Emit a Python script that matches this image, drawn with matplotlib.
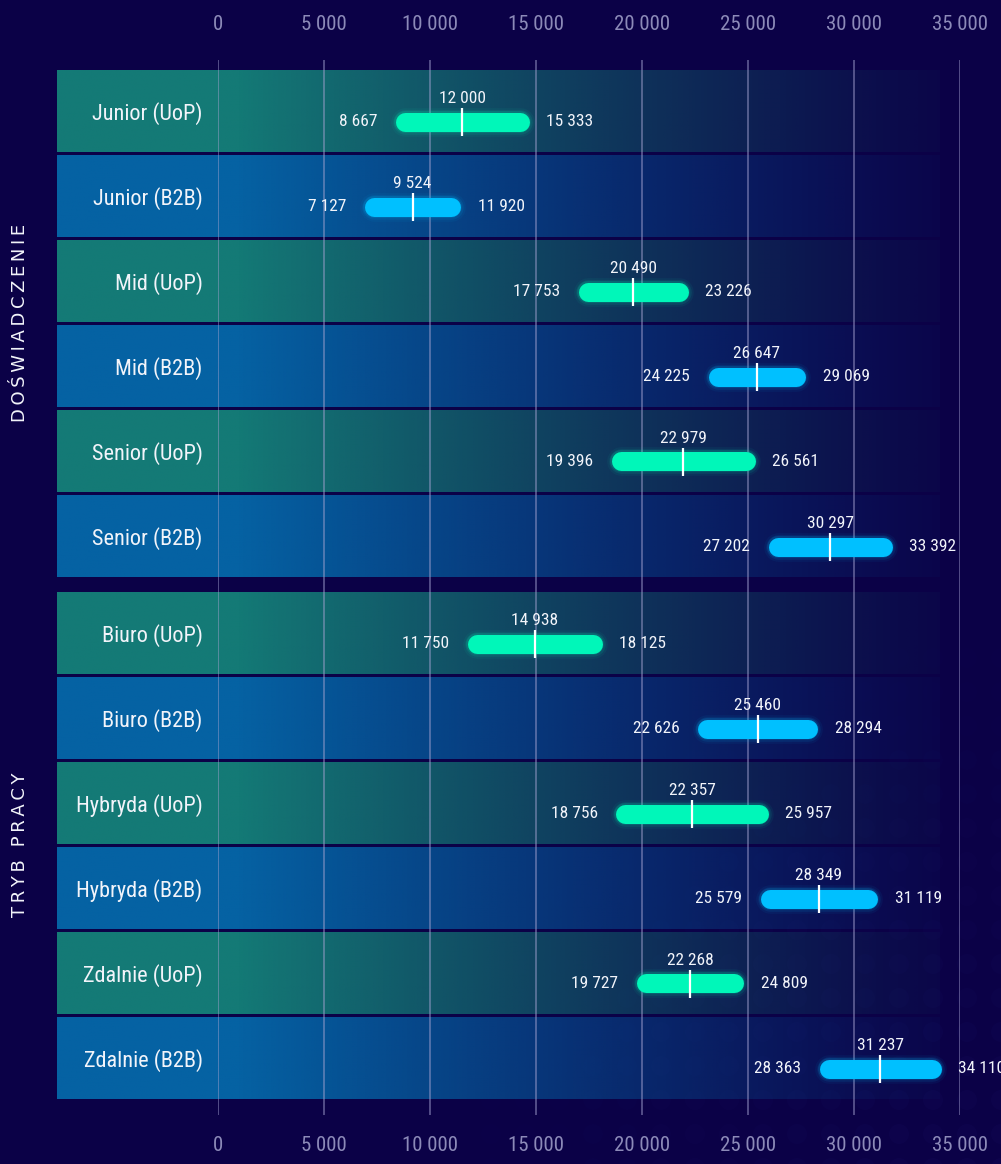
# -*- coding: utf-8 -*-
"""
Widełki wynagrodzeń (min / mediana / max) wg doświadczenia i trybu pracy.
"""
import numpy as np
import matplotlib
matplotlib.use("Agg")
import matplotlib.pyplot as plt
from matplotlib import font_manager
from matplotlib.colors import to_rgb
from matplotlib.ticker import FuncFormatter, MultipleLocator
from matplotlib.transforms import blended_transform_factory

# --------------------------- dane -------------------------------
EXP_LABELS = ["Junior (UoP)", "Junior (B2B)", "Mid (UoP)", "Mid (B2B)",
              "Senior (UoP)", "Senior (B2B)"]
EXP_MIN = [8667, 7127, 17753, 24225, 19396, 27202]
EXP_MED = [12000, 9524, 20490, 26647, 22979, 30297]
EXP_MAX = [15333, 11920, 23226, 29069, 26561, 33392]

MODE_LABELS = ["Biuro (UoP)", "Biuro (B2B)", "Hybryda (UoP)", "Hybryda (B2B)",
               "Zdalnie (UoP)", "Zdalnie (B2B)"]
MODE_MIN = [11750, 22626, 18756, 25579, 19727, 28363]
MODE_MED = [14938, 25460, 22357, 28349, 22268, 31237]
MODE_MAX = [18125, 28294, 25957, 31119, 24809, 34110]

SECTION_TITLES = ["DOŚWIADCZENIE", "TRYB PRACY"]

# --------------------------- wygląd -------------------------------
W, H, DPI = 1001, 1164, 100
BG = "#0b0147"
BAND_UOP = "#147a76"
BAND_B2B = "#0562a3"
BAR_UOP = "#00f7b9"
BAR_B2B = "#00c0ff"
TICK_COLOR = "#8c8ab8"
GRID_COLOR = "#a4a2d0"
TEXT = "#f2f4fa"

PLOT_X0, PLOT_X1 = 218, 960          # piksele osi x
BAND_X0, BAND_X1 = 57, 940           # zakres pasów tła
PITCH = 85                           # odstęp wierszy (px)
BAR_PX = 19


def pick_font(cands):
    names = {f.name for f in font_manager.fontManager.ttflist}
    for c in cands:
        if c in names:
            return c
    return "DejaVu Sans"


COND = pick_font(["Ubuntu Condensed", "Roboto Condensed", "Liberation Sans Narrow",
                  "Open Sans Condensed", "Roboto"])
plt.rcParams["font.family"] = [COND, "DejaVu Sans"]


def fmt(v):
    return f"{int(round(v)):,}".replace(",", " ")


def px_axes(fig, x0, y0, x1, y1, zorder):
    ax = fig.add_axes([x0 / W, 1 - y1 / H, (x1 - x0) / W, (y1 - y0) / H], zorder=zorder)
    ax.patch.set_alpha(0)
    for s in ax.spines.values():
        s.set_visible(False)
    return ax


def band_gradient(color):
    """Poziomy gradient: pełny kolor po lewej, zanik do tła po prawej."""
    n = 400
    xs = np.linspace(BAND_X0, BAND_X1, n)
    alpha = np.clip(1 - (xs - 240) / (BAND_X1 - 240), 0, 1) ** 1.15
    alpha = 0.05 + 0.95 * alpha
    rgba = np.zeros((1, n, 4))
    rgba[..., :3] = to_rgb(color)
    rgba[..., 3] = alpha
    return rgba


def section(fig, y_top, labels, lo, med, hi, xlim):
    """Jedna sekcja: pasy tła (pod siatką) + zakresy (nad siatką)."""
    y_bot = y_top + PITCH * len(labels)
    ylim = (len(labels) - 0.5, -0.5)

    # warstwa tła
    ax_bg = px_axes(fig, PLOT_X0, y_top, PLOT_X1, y_bot, zorder=0)
    trans = blended_transform_factory(ax_bg.transAxes, ax_bg.transData)
    fx0 = (BAND_X0 - PLOT_X0) / (PLOT_X1 - PLOT_X0)
    fx1 = (BAND_X1 - PLOT_X0) / (PLOT_X1 - PLOT_X0)
    half = 41 / PITCH
    for i in range(len(labels)):
        col = BAND_UOP if "UoP" in labels[i] else BAND_B2B
        ax_bg.imshow(band_gradient(col), extent=(fx0, fx1, i + half, i - half),
                     transform=trans, aspect="auto", interpolation="bilinear",
                     clip_on=False)
    ax_bg.set_xlim(0, 1)
    ax_bg.set_ylim(*ylim)
    ax_bg.set_xticks([])
    ax_bg.set_yticks(range(len(labels)), labels)
    ax_bg.tick_params(axis="y", length=0, pad=11, labelsize=16, labelcolor=TEXT)

    # warstwa zakresów
    ax = px_axes(fig, PLOT_X0, y_top, PLOT_X1, y_bot, zorder=3)
    ax.set_xlim(*xlim)
    ax.set_ylim(*ylim)
    ax.set_xticks([])
    ax.set_yticks([])
    per_px = (xlim[1] - xlim[0]) / (PLOT_X1 - PLOT_X0)
    r = BAR_PX / 2 * per_px
    lw = BAR_PX * 72 / DPI
    off = 10.5 / PITCH
    for i in range(len(labels)):
        col = BAR_UOP if "UoP" in labels[i] else BAR_B2B
        y = i + off
        xs = [lo[i] + r, hi[i] - r]
        for extra, a in [(7, 0.05), (4, 0.09), (2, 0.15)]:
            ax.plot(xs, [y, y], color=col, lw=lw + extra, alpha=a,
                    solid_capstyle="round", clip_on=False)
        ax.plot(xs, [y, y], color=col, lw=lw, solid_capstyle="round", clip_on=False)
        ax.plot([med[i], med[i]], [y - 14 / PITCH, y + 14 / PITCH], color="white",
                lw=1.6, solid_capstyle="butt", clip_on=False)
        ax.text(lo[i] - 18 * per_px, y, fmt(lo[i]), ha="right", va="center",
                color=TEXT, fontsize=12.5, clip_on=False)
        ax.text(hi[i] + 17 * per_px, y, fmt(hi[i]), ha="left", va="center",
                color=TEXT, fontsize=12.5, clip_on=False)
        ax.text(med[i], y - 23 / PITCH, fmt(med[i]), ha="center", va="center",
                color=TEXT, fontsize=12.5, clip_on=False)
    return ax


def main():
    fig = plt.figure(figsize=(W / DPI, H / DPI), dpi=DPI, facecolor=BG)

    # delikatny wzór kropek w prawym dolnym rogu
    ax_dots = px_axes(fig, 0, 0, W, H, zorder=-1)
    ax_dots.set_xlim(0, W)
    ax_dots.set_ylim(H, 0)
    ax_dots.set_xticks([])
    ax_dots.set_yticks([])
    gx, gy = np.meshgrid(np.arange(15, W + 20, 34), np.arange(12, H + 20, 34))
    d = np.hypot(W - gx, H - gy)
    a = np.clip(1 - d / 650, 0, 1) * 0.05
    cols = np.zeros((gx.size, 4))
    cols[:, :3] = to_rgb("#3a3ab0")
    cols[:, 3] = a.ravel()
    ax_dots.scatter(gx.ravel(), gy.ravel(), s=(20 * 72 / DPI) ** 2, c=cols, lw=0)

    # oś z siatką i podpisami (wspólna dla obu sekcji)
    ax_grid = px_axes(fig, PLOT_X0, 60, PLOT_X1, 1115, zorder=1)
    ax_grid.set_xlim(0, 35000)
    ax_grid.set_yticks([])
    ax_grid.xaxis.set_major_locator(MultipleLocator(5000))
    ax_grid.xaxis.set_major_formatter(FuncFormatter(lambda v, p: fmt(v)))
    ax_grid.grid(axis="x", color=GRID_COLOR, alpha=0.6, lw=1.1)
    ax_grid.tick_params(axis="x", length=0, pad=15, labelsize=15, labelcolor=TICK_COLOR)
    top = ax_grid.secondary_xaxis("top")
    top.xaxis.set_major_locator(MultipleLocator(5000))
    top.xaxis.set_major_formatter(FuncFormatter(lambda v, p: fmt(v)))
    top.tick_params(axis="x", length=0, pad=19, labelsize=15, labelcolor=TICK_COLOR)
    top.spines["top"].set_visible(False)

    # sekcja górna ma własną skalę (nieco szerszą domenę)
    section(fig, 68.5, EXP_LABELS, EXP_MIN, EXP_MED, EXP_MAX, xlim=(-150, 36750))
    section(fig, 590.5, MODE_LABELS, MODE_MIN, MODE_MED, MODE_MAX, xlim=(0, 35000))

    thin = "\u2009"
    for title, yc in zip(SECTION_TITLES, [323, 845]):
        fig.text(20 / W, 1 - yc / H, thin.join(title), rotation=90, ha="center",
                 va="center", color=TEXT, fontsize=13,
                 family=["DejaVu Sans"])

    fig.savefig("out.png", dpi=DPI, facecolor=BG)
    plt.close(fig)


if __name__ == "__main__":
    main()
